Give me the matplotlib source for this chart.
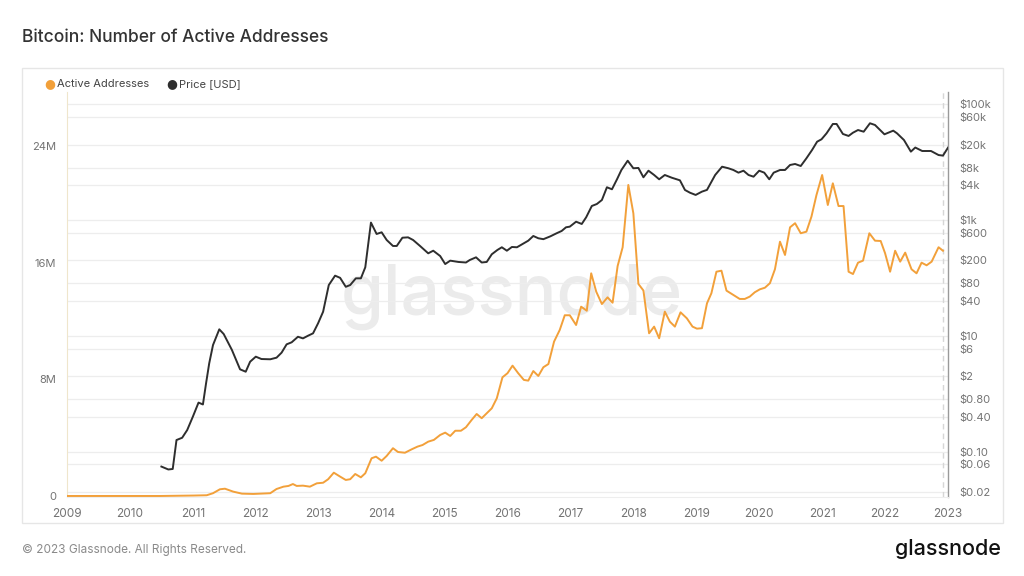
import matplotlib.pyplot as plt
from matplotlib.patches import Rectangle
from matplotlib.ticker import FixedLocator, NullLocator

# Active addresses (millions), decimal year
addr_years = [
    2009.00, 2010.48, 2011.01, 2011.22, 2011.32, 2011.43, 2011.51, 2011.64, 2011.78, 2011.96,
    2012.23, 2012.33, 2012.44, 2012.52, 2012.59, 2012.65, 2012.75, 2012.86, 2012.97, 2013.07,
    2013.15, 2013.24, 2013.34, 2013.43, 2013.50, 2013.58, 2013.67, 2013.74, 2013.84, 2013.91,
    2014.00, 2014.08, 2014.18, 2014.26, 2014.37, 2014.48, 2014.57, 2014.65, 2014.74, 2014.83,
    2014.93, 2015.01, 2015.09, 2015.17, 2015.26, 2015.34, 2015.43, 2015.51, 2015.59, 2015.67,
    2015.75, 2015.83, 2015.92, 2016.00, 2016.08, 2016.17, 2016.26, 2016.33, 2016.41, 2016.49,
    2016.57, 2016.65, 2016.74, 2016.83, 2016.91, 2016.99, 2017.09, 2017.17, 2017.26, 2017.33,
    2017.41, 2017.50, 2017.59, 2017.67, 2017.75, 2017.83, 2017.92, 2018.00, 2018.08, 2018.16,
    2018.25, 2018.33, 2018.41, 2018.50, 2018.58, 2018.66, 2018.75, 2018.85, 2018.94, 2019.01,
    2019.09, 2019.17, 2019.24, 2019.32, 2019.40, 2019.48, 2019.59, 2019.69, 2019.77, 2019.85,
    2019.93, 2020.01, 2020.09, 2020.17, 2020.25, 2020.33, 2020.41, 2020.49, 2020.57, 2020.66,
    2020.75, 2020.83, 2020.91, 2021.00, 2021.09, 2021.17, 2021.26, 2021.34, 2021.42, 2021.49,
    2021.57, 2021.65, 2021.75, 2021.84, 2021.93, 2022.00, 2022.08, 2022.16, 2022.24, 2022.32,
    2022.42, 2022.50, 2022.58, 2022.66, 2022.74, 2022.85, 2022.92,
]
addr_millions = [
    0.00, 0.00, 0.03, 0.05, 0.19, 0.46, 0.50, 0.30, 0.16, 0.14,
    0.19, 0.48, 0.64, 0.69, 0.82, 0.69, 0.71, 0.64, 0.87, 0.91,
    1.15, 1.60, 1.33, 1.10, 1.15, 1.51, 1.28, 1.56, 2.59, 2.70,
    2.42, 2.75, 3.28, 3.02, 2.97, 3.21, 3.39, 3.50, 3.73, 3.85,
    4.19, 4.35, 4.12, 4.48, 4.48, 4.72, 5.22, 5.63, 5.34, 5.68,
    6.02, 6.71, 8.15, 8.43, 8.95, 8.43, 7.97, 7.92, 8.58, 8.24,
    8.84, 9.06, 10.60, 11.40, 12.41, 12.41, 11.74, 13.00, 12.72, 15.29,
    14.03, 13.18, 13.64, 13.27, 15.79, 17.08, 21.36, 19.41, 14.56, 14.11,
    11.17, 11.63, 10.83, 12.66, 11.97, 11.63, 12.61, 12.20, 11.63, 11.49,
    11.52, 13.23, 13.92, 15.40, 15.47, 14.10, 13.80, 13.53, 13.53, 13.69,
    13.99, 14.19, 14.30, 14.61, 15.57, 17.46, 16.55, 18.45, 18.73, 18.04,
    18.15, 19.18, 20.67, 22.04, 19.98, 21.47, 19.91, 19.91, 15.40, 15.24,
    16.02, 16.16, 18.04, 17.53, 17.51, 16.67, 15.40, 16.84, 16.09, 16.71,
    15.57, 15.29, 16.02, 15.84, 16.09, 17.08, 16.84,
]

# Price (USD), decimal year
price_years = [
    2010.50, 2010.61, 2010.68, 2010.74, 2010.83, 2010.91, 2011.00, 2011.09, 2011.16, 2011.21,
    2011.26, 2011.32, 2011.42, 2011.49, 2011.62, 2011.75, 2011.84, 2011.91, 2012.00, 2012.09,
    2012.23, 2012.33, 2012.41, 2012.49, 2012.57, 2012.67, 2012.75, 2012.83, 2012.91, 2012.99,
    2013.07, 2013.16, 2013.26, 2013.34, 2013.43, 2013.50, 2013.59, 2013.67, 2013.74, 2013.83,
    2013.92, 2014.00, 2014.08, 2014.18, 2014.24, 2014.33, 2014.42, 2014.50, 2014.61, 2014.74,
    2014.82, 2014.93, 2015.01, 2015.09, 2015.22, 2015.34, 2015.40, 2015.50, 2015.59, 2015.67,
    2015.75, 2015.84, 2015.91, 2015.99, 2016.07, 2016.15, 2016.24, 2016.33, 2016.41, 2016.49,
    2016.57, 2016.68, 2016.78, 2016.86, 2016.93, 2016.99, 2017.09, 2017.18, 2017.25, 2017.34,
    2017.42, 2017.50, 2017.58, 2017.66, 2017.74, 2017.81, 2017.91, 2018.00, 2018.08, 2018.16,
    2018.24, 2018.33, 2018.41, 2018.50, 2018.61, 2018.74, 2018.82, 2018.90, 2018.99, 2019.09,
    2019.17, 2019.30, 2019.41, 2019.51, 2019.59, 2019.67, 2019.75, 2019.83, 2019.91, 2020.00,
    2020.08, 2020.16, 2020.23, 2020.33, 2020.41, 2020.49, 2020.57, 2020.66, 2020.75, 2020.84,
    2020.92, 2020.99, 2021.07, 2021.17, 2021.23, 2021.33, 2021.42, 2021.49, 2021.57, 2021.66,
    2021.76, 2021.84, 2021.99, 2022.13, 2022.19, 2022.30, 2022.41, 2022.48, 2022.59, 2022.73,
    2022.85, 2022.92, 2023.00,
]
price_usd = [
    0.055, 0.049, 0.050, 0.158, 0.173, 0.235, 0.40, 0.70, 0.65, 1.51,
    3.34, 6.9, 12.9, 10.7, 5.7, 2.63, 2.39, 3.56, 4.35, 3.96,
    3.92, 4.18, 5.1, 7.1, 7.7, 9.6, 9.0, 10.0, 11.0, 16.4,
    26, 75, 109, 100, 70, 75, 98, 98, 152, 900,
    572, 611, 450, 355, 355, 493, 500, 450, 355, 265,
    294, 238, 173, 198, 188, 184, 203, 226, 184, 188,
    255, 303, 337, 294, 341, 337, 384, 438, 528, 482,
    465, 520, 588, 644, 746, 765, 932, 851, 1110, 1741,
    1884, 2208, 3664, 3382, 5032, 7280, 10540, 7800, 7900, 5450,
    7080, 5970, 5030, 5970, 5360, 4830, 3290, 2950, 2700, 3080,
    3300, 5970, 8300, 7800, 7280, 6550, 7080, 5970, 5580, 7080,
    6550, 5030, 6550, 7280, 7280, 8890, 9250, 8530, 11590, 16140,
    22440, 24700, 31300, 45400, 45400, 30500, 28200, 32100, 35700, 33400,
    46700, 43600, 30100, 34800, 31300, 24000, 15100, 17800, 15500, 15500,
    13200, 12900, 17700,
]

year_ticks = list(range(2009, 2024))
left_ticks = [0, 8, 16, 24]
left_labels = ["0", "8M", "16M", "24M"]
price_ticks = [0.02, 0.06, 0.10, 0.40, 0.80, 2, 6, 10, 40, 80, 200, 600,
               1000, 4000, 8000, 20000, 60000, 100000]
price_labels = ["$0.02", "$0.06", "$0.10", "$0.40", "$0.80", "$2", "$6", "$10",
                "$40", "$80", "$200", "$600", "$1k", "$4k", "$8k", "$20k",
                "$60k", "$100k"]

plt.rcParams['font.family'] = ['Inter', 'DejaVu Sans']

ORANGE = '#f2a03a'
DARK = '#2e2e2e'
TICK = '#737373'

fig = plt.figure(figsize=(10.24, 5.76), dpi=100)
fig.patch.set_facecolor('white')

# outer panel frame
fig.patches.append(Rectangle((22 / 1024, 1 - 523 / 576), 981 / 1024, 455 / 576,
                             transform=fig.transFigure, fill=False,
                             edgecolor='#e6e6e6', linewidth=1.0))

ax = fig.add_axes([67 / 1024, 1 - 497 / 576, 881 / 1024, 405 / 576])
ax_l = ax.twinx()

# price axis (log, labels on the right)
ax.set_yscale('log')
ax.set_ylim(0.0164, 161900)
ax.set_xlim(2009, 2023)
ax.yaxis.set_major_locator(FixedLocator(price_ticks))
ax.yaxis.set_minor_locator(NullLocator())
ax.set_yticklabels(price_labels)
ax.yaxis.tick_right()
ax.grid(axis='y', color='#ededed', linewidth=0.9)
ax.set_axisbelow(True)

ax.text(0.505, 0.495, 'glassnode', transform=ax.transAxes, ha='center', va='center',
        fontsize=50, color='#ebebeb', fontweight='medium', zorder=0)

ax.plot(price_years, price_usd, color=DARK, linewidth=1.4, zorder=3)
ax.axvline(addr_years[-1], color='#d6d6d6', linewidth=1.0, linestyle=(0, (4, 3)), zorder=1)

ax.set_xticks(year_ticks)
ax.tick_params(axis='both', length=0, colors=TICK, labelsize=8)
ax.tick_params(axis='y', pad=8)
ax.tick_params(axis='x', pad=8, labelsize=8.5)

# active addresses axis (linear, labels on the left)
ax_l.yaxis.tick_left()
ax_l.set_ylim(-0.07, 27.74)
ax_l.set_yticks(left_ticks)
ax_l.set_yticklabels(left_labels)
ax_l.tick_params(axis='y', length=0, colors=TICK, labelsize=8, pad=8)
ax_l.plot(addr_years, addr_millions, color=ORANGE, linewidth=1.4, zorder=2)

for a in (ax, ax_l):
    a.patch.set_visible(False)
    for side in ('top', 'left', 'right', 'bottom'):
        a.spines[side].set_visible(False)
ax.spines['right'].set_visible(True)
ax.spines['right'].set_color('#9a9a9a')
ax.spines['right'].set_linewidth(1.0)
ax.spines['left'].set_visible(True)
ax.spines['left'].set_color('#efe6cc')
ax.spines['bottom'].set_visible(True)
ax.spines['bottom'].set_color('#eeeeee')

# legend
fig.text(50 / 1024, 1 - 84 / 576, '●', color=ORANGE, fontsize=9, ha='center', va='center',
         family=['DejaVu Sans'])
fig.text(57 / 1024, 1 - 84 / 576, 'Active Addresses', color='#444444', fontsize=8, va='center')
fig.text(172 / 1024, 1 - 84 / 576, '●', color=DARK, fontsize=9, ha='center', va='center',
         family=['DejaVu Sans'])
fig.text(179 / 1024, 1 - 84 / 576, 'Price [USD]', color='#444444', fontsize=8, va='center')

fig.text(22 / 1024, 1 - 37 / 576, 'Bitcoin: Number of Active Addresses', color='#333333',
         fontsize=12.5, va='center', fontweight='medium')
fig.text(22 / 1024, 1 - 550 / 576, '© 2023 Glassnode. All Rights Reserved.', color='#8a8a8a',
         fontsize=8.5, va='center')
fig.text(1001 / 1024, 1 - 549 / 576, 'glassnode', color='#111111', fontsize=15.5,
         ha='right', va='center', fontweight='medium')

fig.savefig('out.png', dpi=100, facecolor='white')
